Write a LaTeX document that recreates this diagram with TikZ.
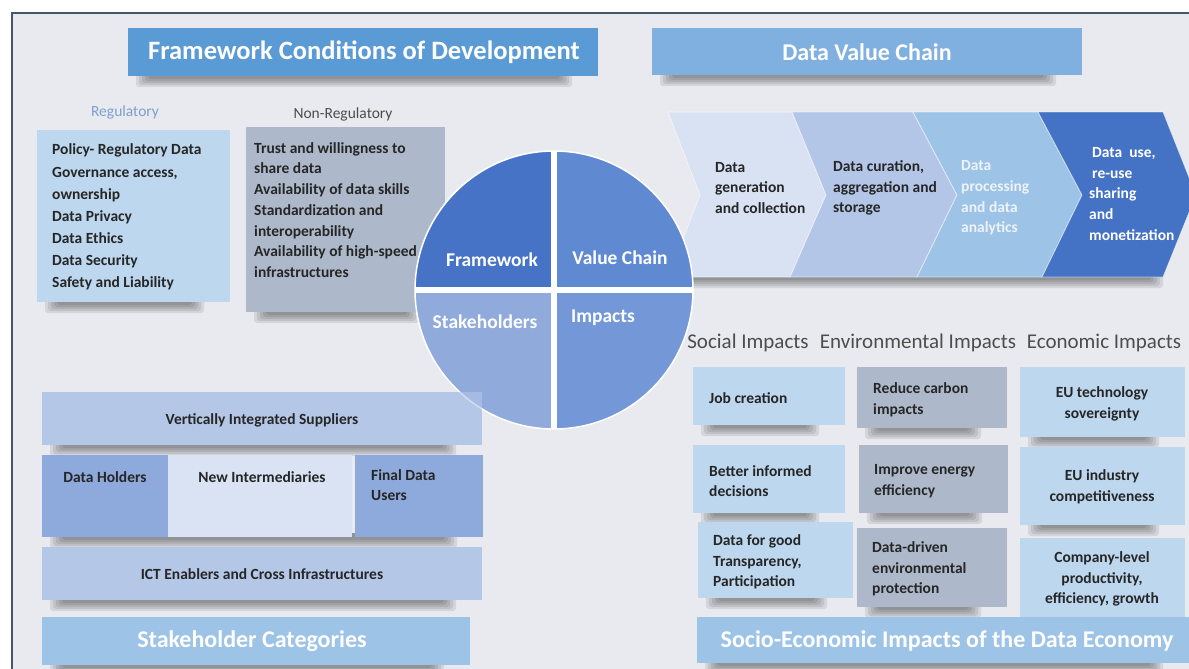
\documentclass[tikz,border=0pt]{standalone}
\usepackage{fontspec}
\setmainfont{Carlito}

% palette
\definecolor{pagebg}{HTML}{E8EAEF}
\definecolor{framecol}{HTML}{46566B}
\definecolor{titleA}{HTML}{5B9BD5}
\definecolor{titleB}{HTML}{7FB0E0}
\definecolor{regfill}{HTML}{BDD7EE}
\definecolor{nonregfill}{HTML}{ADB9CA}
\definecolor{regtext}{HTML}{7F9FCF}
\definecolor{quadTL}{HTML}{4673C5}
\definecolor{quadTR}{HTML}{5F89D0}
\definecolor{quadBL}{HTML}{8FAADB}
\definecolor{quadBR}{HTML}{7498D7}
\definecolor{chevA}{HTML}{D9E2F3}
\definecolor{chevB}{HTML}{B4C6E7}
\definecolor{chevC}{HTML}{9DC3E6}
\definecolor{chevD}{HTML}{4472C4}
\definecolor{layerfill}{HTML}{B4C7E7}
\definecolor{rolefill}{HTML}{8EA9DB}
\definecolor{midfill}{HTML}{DAE3F3}
\definecolor{bandfill}{HTML}{9DC3E6}
\definecolor{impfill}{HTML}{BDD7EE}
\definecolor{envfill}{HTML}{ADB9CA}
\definecolor{txtdark}{HTML}{262626}
\definecolor{headgrey}{HTML}{4D4D4D}
\definecolor{paletext}{HTML}{EEF3FA}

\newcommand\txtbody{\fontsize{15.5}{20.7}\selectfont\bfseries}
\newcommand\txtregs{\fontsize{15.5}{22.1}\selectfont\bfseries}
\newcommand\txthead{\fontsize{21}{25}\selectfont}
\newcommand\txtbanner{\fontsize{24}{28}\selectfont\bfseries}
\newcommand\txtbig{\fontsize{26.5}{30}\selectfont\bfseries}
\newcommand\txtwheel{\fontsize{19.5}{23}\selectfont\bfseries}
\newcommand\txtsub{\fontsize{15.5}{18}\selectfont}

% soft shadow under a box: left x, right x, bottom y
\newcommand\softshadow[3]{%
  \foreach \k in {0,1,2,3,4}{%
    \fill[black, opacity=0.085, rounded corners=3pt]
      ({#1+8+3*\k},{#3-4}) rectangle ({#2-26-3*\k},{#3+11-2*\k});
  }%
}

\begin{document}
\begin{tikzpicture}[x=1pt,y=-1pt,
  panel/.style={rectangle, inner sep=0pt, anchor=north west, draw=none},
  body/.style={font=\txtbody, text=txtdark, inner sep=0pt, align=left},
  bodyc/.style={body, align=center},
  regs/.style={font=\txtregs, text=txtdark, inner sep=0pt, align=left},
  bannertext/.style={font=\txtbanner, text=white, inner sep=0pt},
  wheeltext/.style={font=\txtwheel, text=white, inner sep=0pt},
  headtext/.style={font=\txthead, text=headgrey, inner sep=0pt},
  chevtext/.style={font=\txtbody, inner sep=0pt, align=left},
  chevedge/.style={draw=white, draw opacity=0.55, line width=0.8pt},
]
\useasboundingbox (0,0) rectangle (1189,669);

% page and frame
\fill[white] (0,0) rectangle (1189,669);
\fill[pagebg] (12,13) rectangle (1195,675);
\draw[framecol, line width=1.6pt] (12,675) -- (12,13) -- (1195,13);

% ---------- shadows ----------
\softshadow{128}{598}{76}
\softshadow{652}{1082}{75}
\softshadow{37}{230}{302}
\softshadow{246}{445}{312}
\softshadow{668}{1189}{277}
\softshadow{42}{482}{445}
\softshadow{42}{483}{537}
\softshadow{42}{482}{600}
\softshadow{42}{470}{665}
\softshadow{693}{845}{425}
\softshadow{693}{845}{513}
\softshadow{698}{853}{598}
\softshadow{857}{1007}{428}
\softshadow{859}{1008}{513}
\softshadow{857}{1007}{607}
\softshadow{1020}{1185}{437}
\softshadow{1020}{1185}{525}
\softshadow{697}{1189}{663}

% ---------- framework conditions ----------
\node[panel, fill=titleA, minimum width=470pt, minimum height=48pt] (fwtitle) at (128,28) {};
\node[bannertext, font=\txtbig] (fwtitletext) at (364,52) {Framework Conditions of Development};

\node[font=\txtsub, text=regtext, inner sep=0pt] (reglabel) at (125,112) {Regulatory};
\node[font=\txtsub, text=headgrey, inner sep=0pt] (nonreglabel) at (343,114) {Non-Regulatory};

\node[panel, fill=regfill, minimum width=193pt, minimum height=172pt] (reg) at (37,130) {};
\node[regs, anchor=west] (regtxt) at (52,217) {Policy- Regulatory Data\\Governance access,\\ownership\\Data Privacy\\Data Ethics\\Data Security\\Safety and Liability};

\node[panel, fill=nonregfill, minimum width=199pt, minimum height=185pt] (nonreg) at (246,127) {};
\node[body, anchor=west] (nonregtxt) at (254,210) {Trust and willingness to\\share data\\Availability of data skills\\Standardization and\\interoperability\\Availability of high-speed\\infrastructures};

% ---------- data value chain ----------
\node[panel, fill=titleB, minimum width=430pt, minimum height=47pt] (vctitle) at (652,28) {};
\node[bannertext] (vctitletext) at (867,52) {Data Value Chain};

\path[fill=chevA, chevedge] (668,112) -- (792,112) -- (826,195) -- (790,277) -- (668,277) -- (700,195) -- cycle;
\path[fill=chevB, chevedge] (792,112) -- (913,112) -- (957,195) -- (917,277) -- (790,277) -- (826,195) -- cycle;
\path[fill=chevC, chevedge] (913,112) -- (1038,112) -- (1082,195) -- (1042,277) -- (917,277) -- (957,195) -- cycle;
\path[fill=chevD, chevedge] (1038,112) -- (1163,112) -- (1196,195) -- (1163,277) -- (1042,277) -- (1082,195) -- cycle;

\node[chevtext, text=txtdark, anchor=west] (chev1) at (715,188) {Data\\generation\\and collection};
\node[chevtext, text=txtdark, anchor=west] (chev2) at (833,188) {Data curation,\\aggregation and\\storage};
\node[chevtext, text=paletext, anchor=west] (chev3) at (961,198) {Data\\processing\\and data\\analytics};
\node[chevtext, text=white, anchor=west] (chev4) at (1089,194) {\hspace{3pt}Data\ \ use,\\\hspace{3pt}re-use\\sharing\\and\\monetization};

% ---------- stakeholder layers (drawn under the wheel) ----------
\node[panel, fill=layerfill, minimum width=440pt, minimum height=53pt] (vis) at (42,392) {};

% ---------- central wheel ----------
\node[circle, minimum size=278pt, inner sep=0pt, draw=white, line width=1.5pt,
  path picture={
    \fill[quadTL] (path picture bounding box.north west) rectangle (path picture bounding box.center);
    \fill[quadTR] (path picture bounding box.north east) rectangle (path picture bounding box.center);
    \fill[quadBL] (path picture bounding box.south west) rectangle (path picture bounding box.center);
    \fill[quadBR] (path picture bounding box.south east) rectangle (path picture bounding box.center);
    \draw[white, line width=6.5pt] (path picture bounding box.west) -- (path picture bounding box.east)
      (path picture bounding box.north) -- (path picture bounding box.south);
  }] (wheel) at (554,290) {};
\node[wheeltext] (wheelfw) at (492,260) {Framework};
\node[wheeltext] (wheelvc) at (620,258) {Value Chain};
\node[wheeltext] (wheelsh) at (485,322) {Stakeholders};
\node[wheeltext] (wheelim) at (603,318) {Impacts};

% ---------- stakeholder categories ----------
\node[panel, fill=layerfill, fill opacity=0.6, minimum width=440pt, minimum height=53pt] (visveil) at (42,392) {};
\node[body] (vistxt) at (262,420) {Vertically Integrated Suppliers};

\node[panel, fill=rolefill, minimum width=126pt, minimum height=82pt] (holders) at (42,455) {};
\node[panel, fill=midfill, minimum width=184pt, minimum height=82pt] (interm) at (168,455) {};
\node[panel, fill=rolefill, minimum width=128pt, minimum height=82pt] (users) at (355,455) {};
\node[body] (holderstxt) at (105,477) {Data Holders};
\node[body] (intermtxt) at (262,477) {New Intermediaries};
\node[body, anchor=west] (userstxt) at (371,485) {Final Data\\Users};

\node[panel, fill=layerfill, minimum width=440pt, minimum height=53pt] (ict) at (42,547) {};
\node[body] (icttxt) at (262,574) {ICT Enablers and Cross Infrastructures};

\node[panel, fill=bandfill, minimum width=428pt, minimum height=48pt] (stcat) at (42,617) {};
\node[bannertext] (stcattxt) at (252,641) {Stakeholder Categories};

% ---------- impacts ----------
\node[headtext] (hsoc) at (748,343) {Social Impacts};
\node[headtext] (henv) at (918,343) {Environmental Impacts};
\node[headtext] (heco) at (1104,343) {Economic Impacts};

\node[panel, fill=impfill, minimum width=152pt, minimum height=58pt] (soc1) at (693,367) {};
\node[panel, fill=impfill, minimum width=152pt, minimum height=68pt] (soc2) at (693,445) {};
\node[panel, fill=impfill, minimum width=155pt, minimum height=76pt] (soc3) at (698,522) {};
\node[panel, fill=envfill, minimum width=150pt, minimum height=61pt] (env1) at (857,367) {};
\node[panel, fill=envfill, minimum width=149pt, minimum height=68pt] (env2) at (859,445) {};
\node[panel, fill=envfill, minimum width=150pt, minimum height=79pt] (env3) at (857,528) {};
\node[panel, fill=impfill, minimum width=165pt, minimum height=70pt] (eco1) at (1020,367) {};
\node[panel, fill=impfill, minimum width=165pt, minimum height=78pt] (eco2) at (1020,447) {};
\node[panel, fill=impfill, minimum width=165pt, minimum height=79pt] (eco3) at (1020,538) {};

\node[body, anchor=west] (soc1txt) at (709,398) {Job creation};
\node[body, anchor=west] (soc2txt) at (709,481) {Better informed\\decisions};
\node[body, anchor=west] (soc3txt) at (713,562) {Data for good\\Transparency,\\Participation};
\node[body, anchor=west] (env1txt) at (873,400) {Reduce carbon\\impacts};
\node[body, anchor=west] (env2txt) at (874,481) {Improve energy\\efficiency};
\node[body, anchor=west] (env3txt) at (872,569) {Data-driven\\environmental\\protection};
\node[bodyc] (eco1txt) at (1102,404) {EU technology\\sovereignty};
\node[bodyc] (eco2txt) at (1102,487) {EU industry\\competitiveness};
\node[bodyc] (eco3txt) at (1102,579) {Company-level\\productivity,\\efficiency, growth};

\node[panel, fill=bandfill, minimum width=498pt, minimum height=46pt] (seband) at (697,617) {};
\node[bannertext] (sebandtxt) at (947,641) {Socio-Economic Impacts of the Data Economy};

\end{tikzpicture}
\end{document}
